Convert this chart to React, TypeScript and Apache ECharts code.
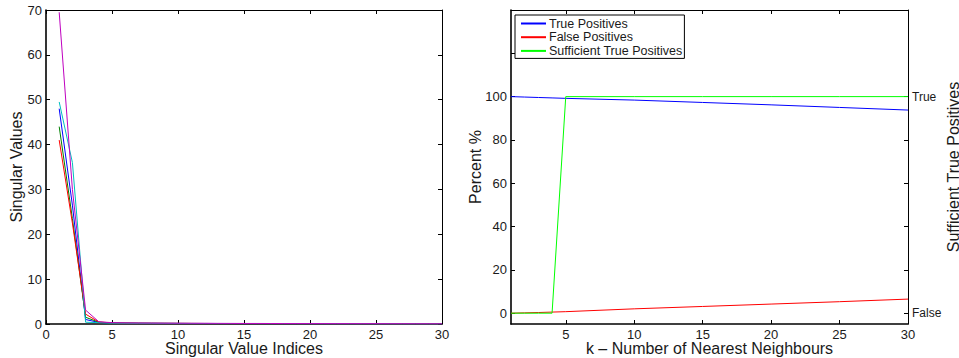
import React, { useEffect, useRef } from 'react';
import * as echarts from 'echarts';

// ---- Left chart: singular values ----
const svIndices = [1, 2, 3, 4, 5, 6, 7, 8, 9, 10, 11, 12, 13, 14, 15, 16, 17, 18, 19, 20, 21, 22, 23, 24, 25, 26, 27, 28, 29, 30];
const svBlue = [48, 26.5, 1.0, 0.35, 0.22, 0.18, 0.16, 0.15, 0.14, 0.13, 0.12, 0.12, 0.11, 0.1, 0.1, 0.09, 0.09, 0.08, 0.08, 0.07, 0.07, 0.06, 0.06, 0.05, 0.05, 0.04, 0.04, 0.03, 0.03, 0.02];
const svGreen = [44, 23.5, 1.5, 0.4, 0.24, 0.2, 0.17, 0.15, 0.14, 0.13, 0.12, 0.11, 0.11, 0.1, 0.1, 0.09, 0.09, 0.08, 0.08, 0.07, 0.07, 0.06, 0.06, 0.05, 0.05, 0.04, 0.04, 0.03, 0.03, 0.02];
const svRed = [41, 22.5, 2.2, 0.45, 0.25, 0.2, 0.17, 0.16, 0.15, 0.14, 0.13, 0.12, 0.11, 0.1, 0.1, 0.09, 0.09, 0.08, 0.08, 0.07, 0.07, 0.06, 0.06, 0.05, 0.05, 0.04, 0.04, 0.03, 0.03, 0.02];
const svCyan = [49.5, 36, 0.4, 0.3, 0.2, 0.17, 0.15, 0.14, 0.13, 0.12, 0.11, 0.11, 0.1, 0.1, 0.09, 0.09, 0.08, 0.08, 0.07, 0.07, 0.06, 0.06, 0.05, 0.05, 0.04, 0.04, 0.03, 0.03, 0.02, 0.02];
const svMagenta = [69.5, 30, 3.1, 0.5, 0.3, 0.25, 0.22, 0.2, 0.18, 0.17, 0.16, 0.15, 0.14, 0.13, 0.12, 0.12, 0.11, 0.1, 0.1, 0.09, 0.09, 0.08, 0.08, 0.07, 0.07, 0.06, 0.06, 0.05, 0.05, 0.04];
const svSeriesNames = ['sv1', 'sv2', 'sv3', 'sv4', 'sv5'];
const svSeriesColors = ['#0000ff', '#008000', '#ff0000', '#00bfbf', '#bf00bf'];
const svXTicks = [0, 5, 10, 15, 20, 25, 30];
const svYTicks = [0, 10, 20, 30, 40, 50, 60, 70];

// ---- Right chart: kNN ----
const knn = [1, 2, 3, 4, 5, 10, 15, 20, 25, 30];
const truePositives = [100, 99.8, 99.6, 99.4, 99.2, 98.4, 97.3, 96.2, 95.0, 93.8];
const falsePositives = [0, 0.15, 0.3, 0.5, 0.7, 2.0, 3.1, 4.2, 5.3, 6.5];
const sufficientTP = [0, 0, 0, 0, 100, 100, 100, 100, 100, 100];
const knnXTicks = [5, 10, 15, 20, 25, 30];
const percentTicks = [0, 20, 40, 60, 80, 100, 120];
const percentLabels = [0, 20, 40, 60, 80, 100];
const sufficientTicks = [0, 20, 40, 60, 80, 100];
const sufficientLabels = [0, 100];
const sufficientNames: Record<number, string> = { 0: 'False', 100: 'True' };
const legendNames = ['True Positives', 'False Positives', 'Sufficient True Positives'];

const FONT = 'Liberation Sans, Arial, Helvetica, sans-serif';
const TXT = '#1a1a1a';

export default function App() {
  const ref = useRef<HTMLDivElement>(null);
  useEffect(() => {
    const chart = echarts.init(ref.current!, null, { renderer: 'svg' });
    const tick = { show: true, inside: true, length: 4, lineStyle: { color: '#000', width: 1 } };
    const mainLine = { show: true, onZero: false, lineStyle: { color: '#000', width: 1.6 } };
    const thinLine = { show: true, onZero: false, lineStyle: { color: '#000', width: 1 } };
    const lbl = { fontSize: 13, color: TXT, fontFamily: FONT, margin: 4 };
    const nameStyle = { fontSize: 16, color: TXT, fontFamily: FONT };

    const svData = [svBlue, svGreen, svRed, svCyan, svMagenta];

    const option: any = {
      animation: false,
      textStyle: { fontFamily: FONT },
      grid: [
        { left: 46, top: 10, width: 396, height: 314, outerBoundsMode: 'none', containLabel: false },
        { left: 511, top: 10, width: 397, height: 314, outerBoundsMode: 'none', containLabel: false },
      ],
      legend: {
        left: 515,
        top: 15,
        orient: 'vertical',
        data: legendNames.map((n) => ({ name: n, itemStyle: { opacity: 0 } })),
        itemWidth: 25,
        itemHeight: 14,
        itemGap: 0.7,
        padding: [2, 2, 1, 5],
        borderColor: '#000',
        borderWidth: 1,
        backgroundColor: '#fff',
        textStyle: { fontSize: 12.5, color: TXT, fontFamily: FONT, padding: [0, 0, 0, -2] },
      },
      xAxis: [
        {
          gridIndex: 0, type: 'value', min: 0, max: 30, position: 'bottom',
          axisLine: mainLine, axisTick: { ...tick, customValues: svXTicks },
          axisLabel: { ...lbl, customValues: svXTicks }, splitLine: { show: false },
          name: 'Singular Value Indices', nameLocation: 'middle', nameGap: 16, nameMoveOverlap: false, nameTextStyle: nameStyle,
        },
        {
          gridIndex: 0, type: 'value', min: 0, max: 30, position: 'top',
          axisLine: thinLine, axisTick: { ...tick, customValues: svXTicks },
          axisLabel: { show: false }, splitLine: { show: false },
        },
        {
          gridIndex: 1, type: 'value', min: 1, max: 30, position: 'bottom',
          axisLine: mainLine, axisTick: { ...tick, customValues: knnXTicks },
          axisLabel: { ...lbl, customValues: knnXTicks }, splitLine: { show: false },
          name: 'k – Number of Nearest Neighbours', nameLocation: 'middle', nameGap: 16, nameMoveOverlap: false, nameTextStyle: nameStyle,
        },
        {
          gridIndex: 1, type: 'value', min: 1, max: 30, position: 'top',
          axisLine: thinLine, axisTick: { ...tick, customValues: knnXTicks },
          axisLabel: { show: false }, splitLine: { show: false },
        },
      ],
      yAxis: [
        {
          gridIndex: 0, type: 'value', min: 0, max: 70, position: 'left',
          axisLine: mainLine, axisTick: { ...tick, customValues: svYTicks },
          axisLabel: { ...lbl, customValues: svYTicks }, splitLine: { show: false },
          name: 'Singular Values', nameLocation: 'middle', nameGap: 22, nameMoveOverlap: false, nameTextStyle: nameStyle,
        },
        {
          gridIndex: 0, type: 'value', min: 0, max: 70, position: 'right',
          axisLine: thinLine, axisTick: { ...tick, customValues: svYTicks },
          axisLabel: { show: false }, splitLine: { show: false },
        },
        {
          gridIndex: 1, type: 'value', min: -5, max: 140, position: 'left',
          axisLine: mainLine, axisTick: { ...tick, customValues: percentTicks },
          axisLabel: { ...lbl, customValues: percentLabels }, splitLine: { show: false },
          name: 'Percent %', nameLocation: 'middle', nameGap: 28, nameMoveOverlap: false, nameTextStyle: nameStyle,
        },
        {
          gridIndex: 1, type: 'value', min: -5, max: 140, position: 'right',
          axisLine: thinLine, axisTick: { ...tick, customValues: sufficientTicks },
          axisLabel: {
            ...lbl, fontSize: 12, customValues: sufficientLabels,
            formatter: (v: number) => sufficientNames[v] ?? '',
          },
          splitLine: { show: false },
          name: 'Sufficient True Positives', nameLocation: 'middle', nameGap: 37, nameMoveOverlap: false, nameTextStyle: nameStyle,
        },
      ],
      series: [
        ...svData.map((vals, i) => ({
          name: svSeriesNames[i],
          type: 'line',
          xAxisIndex: 0,
          yAxisIndex: 0,
          symbol: 'none',
          lineStyle: { color: svSeriesColors[i], width: 1 },
          itemStyle: { color: svSeriesColors[i] },
          data: svIndices.map((x, j) => [x, vals[j]]),
        })),
        {
          name: legendNames[0], type: 'line', xAxisIndex: 2, yAxisIndex: 2, symbol: 'none',
          lineStyle: { color: '#0000ff', width: 1 }, itemStyle: { color: '#0000ff' },
          data: knn.map((x, j) => [x, truePositives[j]]),
        },
        {
          name: legendNames[1], type: 'line', xAxisIndex: 2, yAxisIndex: 2, symbol: 'none',
          lineStyle: { color: '#ff0000', width: 1 }, itemStyle: { color: '#ff0000' },
          data: knn.map((x, j) => [x, falsePositives[j]]),
        },
        {
          name: legendNames[2], type: 'line', xAxisIndex: 2, yAxisIndex: 2, symbol: 'none',
          lineStyle: { color: '#00ff00', width: 1 }, itemStyle: { color: '#00ff00' },
          data: knn.map((x, j) => [x, sufficientTP[j]]),
        },
      ],
    };
    chart.setOption(option);
    return () => chart.dispose();
  }, []);
  return (
    <div
      ref={ref}
      style={{ position: 'fixed', left: 0, top: 0, width: 959, height: 358, background: '#fff' }}
    />
  );
}
